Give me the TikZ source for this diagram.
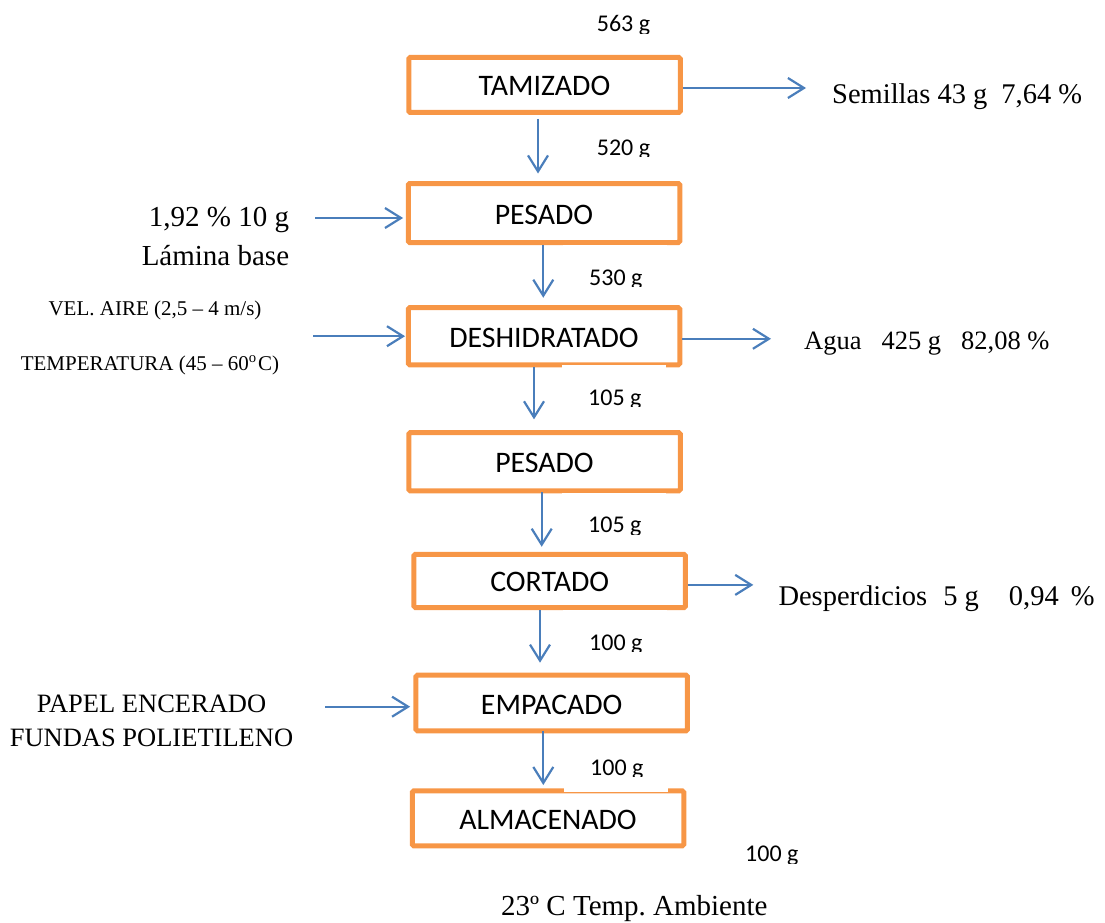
\documentclass[tikz,border=0pt]{standalone}
\usepackage{fontspec}
\setmainfont{Liberation Serif}
\newfontfamily\calib{Carlito}
\usetikzlibrary{arrows.meta}
\definecolor{boxorange}{HTML}{F79646}
\definecolor{flowblue}{HTML}{4A7EBB}

\newcommand\fsz[1]{\fontsize{#1}{#1}\selectfont}
% mass label: white backing, text cut just below the baseline
% #1 name, #2 x of baseline start, #3 baseline y, #4 text
\newcommand\masslabel[4]{%
  \fill[white] (#2-26,#3-40) rectangle (#2+78,#3+17);
  \begin{scope}
    \clip (#2-4,#3-32) rectangle (#2+70,#3+1.8);
    \node[mass] (#1) at (#2,#3) {#4};
  \end{scope}}

\begin{document}
\begin{tikzpicture}[x=1pt,y=-1pt,
  stage/.style={draw=boxorange, line width=5pt, rounded corners=1.5pt,
    minimum width=271.5pt, inner sep=0pt, text height=22pt, text depth=0pt,
    font=\calib\fsz{29.8}},
  flow/.style={draw=flowblue, line width=2.2pt,
    -{Straight Barb[length=16pt,width=20pt]}},
  mass/.style={anchor=base west, inner sep=0pt, font=\calib\fsz{24}},
  note/.style={inner sep=0pt, font=\fsz{28.5}},
  small/.style={inner sep=0pt, font=\fsz{21}}]
\useasboundingbox (0,0) rectangle (1105,923);

% process stages
\node[stage, minimum height=55pt]   (tam)  at (544.5,85)    {TAMIZADO};
\node[stage, minimum height=59pt]   (pes1) at (544,213)     {PESADO};
\node[stage, minimum height=57.3pt] (desh) at (544,336.2)   {DESHIDRATADO};
\node[stage, minimum height=58.3pt] (pes2) at (544.5,461.7) {PESADO};
\node[stage, minimum height=53.3pt] (cort) at (549.7,580.9) {CORTADO};
\node[stage, minimum height=55.6pt] (emp)  at (551.7,703)   {EMPACADO};
\node[stage, minimum height=55pt]   (alm)  at (548,818.3)   {ALMACENADO};

% masses along the line
\masslabel{m0}{596.7}{31.7}{563 g}
\masslabel{m1}{596.7}{155}{520 g}
\masslabel{m2}{589}{285}{530 g}
\masslabel{m3}{588}{405}{105 g}
\masslabel{m4}{588}{532.7}{105 g}
\masslabel{m5}{589}{650}{100 g}
\masslabel{m6}{590}{775}{100 g}
\masslabel{m7}{745}{861.7}{100 g}

% outputs on the right
\node[note, anchor=base west] (sem) at (832,103.3)
  {Semillas 43 g\hspace{14pt}7,64 \%};
\node[note, anchor=base west, font=\fsz{26.5}] (agua) at (804,349)
  {Agua\hspace{20pt}425 g\hspace{20pt}82,08 \%};
\node[note, anchor=base west] (desp) at (778.3,605.7)
  {Desperdicios\hspace{16pt}5 g\hspace{30pt}0,94\hspace{12pt}\%};

% inputs on the left
\node[note, anchor=base east, font=\fsz{29}] (lam1) at (289.3,226) {1,92 \% 10 g};
\node[note, anchor=base east, font=\fsz{29}] (lam2) at (289.3,265) {Lámina base};
\node[small, anchor=base] (vel) at (155,315) {VEL. AIRE (2,5 – 4 m/s)};
\node[small, anchor=base] (temp) at (150,370)
  {TEMPERATURA (45 – 60\textsuperscript{o}\kern1.5pt C)};
\node[note, anchor=base, font=\fsz{26.5}] (pap1) at (151.5,712.7) {PAPEL ENCERADO};
\node[note, anchor=base, font=\fsz{26.5}] (pap2) at (151.5,746) {FUNDAS POLIETILENO};

% storage condition
\node[note, anchor=base west, font=\fsz{29}] (amb) at (501,915) {23º C Temp.\ Ambiente};

% main line
\draw[flow] ([xshift=-6.5pt,yshift=-4pt]tam.south) -- ([xshift=-6pt,yshift=7.5pt]pes1.north);
\draw[flow] ([xshift=-0.7pt]pes1.south)            -- ([xshift=-0.7pt,yshift=7.3pt]desh.north);
\draw[flow] ([xshift=-10pt]desh.south)             -- ([xshift=-10.5pt,yshift=10.7pt]pes2.north);
\draw[flow] ([xshift=-2.8pt,yshift=1pt]pes2.south) -- ([xshift=-8pt,yshift=5pt]cort.north);
\draw[flow] ([xshift=-9.7pt]cort.south)            -- ([xshift=-11.7pt,yshift=10pt]emp.north);
\draw[flow] ([xshift=-8.4pt,yshift=2pt]emp.south)  -- ([xshift=-4.7pt,yshift=3.3pt]alm.north);

% side streams
\draw[flow] ([yshift=-3pt]tam.east) -- ([xshift=-26pt,yshift=-3pt]tam.east -| sem.west);
\draw[flow] ([yshift=-2.6pt]desh.east) -- ([xshift=-33pt,yshift=-2.6pt]desh.east -| agua.west);
\draw[flow] ([yshift=-4pt]cort.east) -- ([xshift=-25pt,yshift=-4pt]cort.east -| desp.west);
\draw[flow] ([xshift=26pt,yshift=-5pt]pes1.west -| lam1.east) -- ([xshift=-2.7pt,yshift=-5pt]pes1.west);
\draw[flow] ([xshift=34pt]desh.west -| temp.east) -- ([xshift=-0.7pt]desh.west);
\draw[flow] ([xshift=32pt,yshift=-3.7pt]emp.west -| pap2.east) -- ([xshift=-3.3pt,yshift=-3.7pt]emp.west);
\end{tikzpicture}
\end{document}
